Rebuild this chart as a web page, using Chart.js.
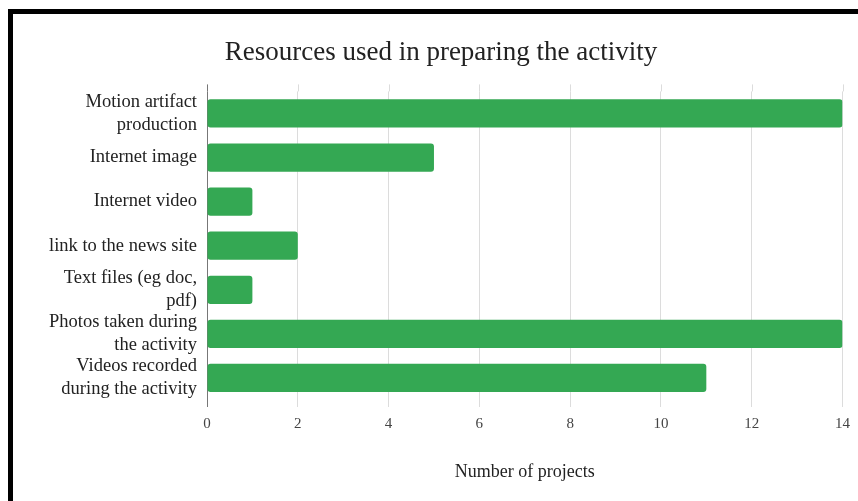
<!DOCTYPE html>
<html>
<head>
<meta charset="utf-8">
<script src="https://cdn.jsdelivr.net/npm/chart.js@4.4.0/dist/chart.umd.min.js"></script>
<style>
  html, body { margin: 0; padding: 0; background: #fff; }
  .frame {
    position: absolute; left: 8px; top: 9px; width: 850px; height: 492px;
    border-top: 5px solid #000; border-left: 5px solid #000;
    box-sizing: border-box;
  }
  .wrapper { position: absolute; left: 0; top: 0; width: 858px; height: 501px; }
</style>
</head>
<body>
<div class="frame"></div>
<div class="wrapper"><canvas id="chart" width="858" height="501"></canvas></div>
<script>
var categories = [
  ['Motion artifact', 'production'],
  'Internet image',
  'Internet video',
  'link to the news site',
  ['Text files (eg doc,', 'pdf)'],
  ['Photos taken during', 'the activity'],
  ['Videos recorded', 'during the activity']
];
var projects = [14, 5, 1, 2, 1, 14, 11];
var xTicks = [0, 2, 4, 6, 8, 10, 12, 14];

var serif = 'Liberation Serif, Times New Roman, serif';

// short grid stubs above the plot, like the original
var topStubs = {
  id: 'topStubs',
  afterDatasetsDraw: function(c) {
    var ctx = c.ctx, x = c.scales.x, top = c.chartArea.top;
    ctx.save();
    xTicks.forEach(function(v, i) {
      var px = Math.round(x.getPixelForValue(v)) + 0.5;
      ctx.strokeStyle = i === 0 ? '#777' : '#dcdcdc';
      ctx.lineWidth = 1;
      ctx.beginPath();
      ctx.moveTo(px, top - 7);
      ctx.lineTo(px, top);
      ctx.stroke();
    });
    ctx.restore();
  }
};

var chart = new Chart(document.getElementById('chart'), {
  type: 'bar',
  data: {
    labels: categories,
    datasets: [{
      label: 'Number of projects',
      data: projects,
      backgroundColor: '#34a853',
      borderRadius: 3,
      borderSkipped: false,
      barPercentage: 0.64,
      categoryPercentage: 1
    }]
  },
  options: {
    indexAxis: 'y',
    responsive: false,
    animation: false,
    layout: { padding: { left: 39, right: 15, top: 0, bottom: 0 } },
    plugins: {
      legend: { display: false },
      tooltip: { enabled: false },
      title: {
        display: true,
        text: 'Resources used in preparing the activity',
        color: '#222',
        font: { family: serif, size: 27, weight: 'normal' },
        padding: { top: 37, bottom: 22 }
      }
    },
    scales: {
      x: {
        min: 0,
        max: 14,
        afterBuildTicks: function(s) { s.ticks = xTicks.map(function(v) { return { value: v }; }); },
        afterFit: function(s) { s.height = 101; },
        grid: {
          color: function(ctx) { return ctx.index === 0 ? '#777' : '#dcdcdc'; },
          drawTicks: true,
          tickLength: 7
        },
        border: { display: false },
        ticks: {
          color: '#444',
          padding: 8,
          font: { family: serif, size: 15 }
        },
        title: {
          display: true,
          text: 'Number of projects',
          color: '#222',
          font: { family: serif, size: 18 },
          padding: { top: 0, bottom: 18 }
        }
      },
      y: {
        afterFit: function(s) { s.width = 168; },
        grid: { display: false, drawTicks: false },
        border: { display: false },
        ticks: {
          autoSkip: false,
          color: '#222',
          padding: 10,
          font: { family: serif, size: 18.5, lineHeight: 1.25 }
        }
      }
    }
  },
  plugins: [topStubs]
});
</script>
</body>
</html>
